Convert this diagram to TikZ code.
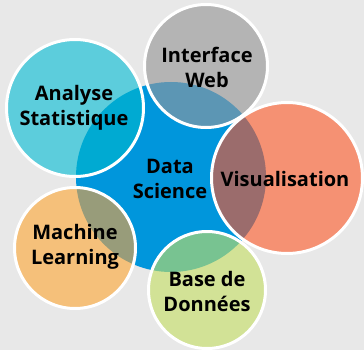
\documentclass[tikz,border=0pt]{standalone}
\usepackage{fontspec}
\setmainfont{Open Sans}
\usepackage{tikz}

\definecolor{bgGray}{RGB}{232,232,232}
\definecolor{dsBlue}{RGB}{0,150,220}
\definecolor{statCyan}{RGB}{92,205,220}
\definecolor{statIn}{RGB}{0,170,210}
\definecolor{webGray}{RGB}{180,180,180}
\definecolor{webIn}{RGB}{92,150,180}
\definecolor{visSalmon}{RGB}{245,145,115}
\definecolor{visIn}{RGB}{155,108,108}
\definecolor{mlOrange}{RGB}{245,192,122}
\definecolor{mlIn}{RGB}{152,156,122}
\definecolor{dbGreen}{RGB}{210,226,150}
\definecolor{dbIn}{RGB}{120,195,145}

\begin{document}
\begin{tikzpicture}[x=1pt,y=-1pt,
        bubble text/.style={align=center,text=black,
            font=\fontsize{20}{25}\selectfont\bfseries},
        ring/.style={draw=white,line width=3pt}]
        \useasboundingbox (0,0) rectangle (364,350);
        \fill[bgGray] (0,0) rectangle (364,350);

        % centre
        \fill[dsBlue] (171,177) circle[radius=95pt];

        % outer circles, overlap with the centre drawn darker
        \foreach \cx/\cy/\r/\col/\ovl in {75/108/70/statCyan/statIn,
                206/66/63/webGray/webIn, 75/248/62/mlOrange/mlIn,
                287/178/77/visSalmon/visIn, 207/290/60/dbGreen/dbIn}{
            \fill[\col] (\cx,\cy) circle[radius=\r pt - 1.5pt];
            \begin{scope}
                \clip (171,177) circle[radius=95pt];
                \fill[\ovl] (\cx,\cy) circle[radius=\r pt - 1.5pt];
            \end{scope}
            \draw[ring] (\cx,\cy) circle[radius=\r pt - 1.5pt];
        }

        \node[bubble text] (ds) at (170,179) {Data\\Science};
        \node[bubble text] (stat) at (74,108) {Analyse\\Statistique};
        \node[bubble text] (web) at (207,67) {Interface\\Web};
        \node[bubble text] (vis) at (285,179) {Visualisation};
        \node[bubble text] (ml) at (75,247) {Machine\\Learning};
        \node[bubble text] (db) at (207,291) {Base de\\Données};
\end{tikzpicture}
\end{document}
